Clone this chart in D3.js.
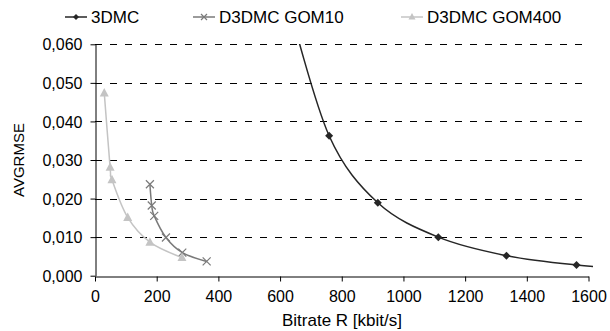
<!DOCTYPE html>
<html>
<head>
<meta charset="utf-8">
<script src="https://cdn.jsdelivr.net/npm/d3@7"></script>
<style>
  html, body { margin: 0; padding: 0; background: #fff; }
  svg { display: block; font-family: "Liberation Sans", Arial, sans-serif; }
</style>
</head>
<body>
<svg id="chart" width="610" height="331"></svg>
<script>
// values (points outside the axes get clipped like Excel does)
const seriesNames = ['3DMC', 'D3DMC GOM10', 'D3DMC GOM400'];
const bitrate3DMC = [630, 759, 917, 1113, 1334, 1561, 1790];
const rmse3DMC = [0.070, 0.0363, 0.0189, 0.0100, 0.0052, 0.0028, 0.0015];
const bitrateGOM10 = [178, 184, 192, 230, 283, 362];
const rmseGOM10 = [0.0237, 0.0182, 0.0155, 0.0099, 0.0060, 0.0037];
const bitrateGOM400 = [30, 49, 55, 106, 178, 282];
const rmseGOM400 = [0.0474, 0.0281, 0.0249, 0.0151, 0.0087, 0.0047];
const xTicks = [0, 200, 400, 600, 800, 1000, 1200, 1400, 1600];
const yTicks = [0, 0.01, 0.02, 0.03, 0.04, 0.05, 0.06];

const svg = d3.select('#chart');
const x = d3.scaleLinear().domain([0, 1600]).range([95, 588.5]);
const y = d3.scaleLinear().domain([0, 0.06]).range([275.7, 44.3]);
const fmt = v => d3.format('.3f')(v).replace('.', ',');

// dashed grid
svg.append('g').selectAll('line').data(yTicks.slice(1)).enter().append('line')
  .attr('x1', x(0)).attr('x2', x(1600))
  .attr('y1', d => Math.round(y(d)) + 0.5).attr('y2', d => Math.round(y(d)) + 0.5)
  .attr('stroke', '#000').attr('stroke-width', 1).attr('stroke-dasharray', '7,8');

// axes
const xAxis = svg.append('g').attr('transform', `translate(0,${Math.round(y(0)) + 0.5})`)
  .call(d3.axisBottom(x).tickValues(xTicks).tickFormat(d3.format('d')).tickSize(5).tickSizeOuter(0).tickPadding(9));
const yAxis = svg.append('g').attr('transform', `translate(${Math.round(x(0)) + 0.5},0)`)
  .call(d3.axisLeft(y).tickValues(yTicks).tickFormat(fmt).tickSize(5).tickSizeOuter(0).tickPadding(8));
[xAxis, yAxis].forEach(g => {
  g.select('.domain').attr('stroke', '#000');
  g.selectAll('.tick line').attr('stroke', '#000');
  g.selectAll('.tick text').attr('font-family', '"Liberation Sans", Arial, sans-serif')
    .attr('font-size', 16).attr('fill', '#000');
});
yAxis.selectAll('.tick text').attr('dy', '0.35em');

// titles
svg.append('text').attr('x', 342).attr('y', 326).attr('text-anchor', 'middle')
  .attr('font-size', 17).text('Bitrate R [kbit/s]');
svg.append('text').attr('transform', 'translate(24,160) rotate(-90)').attr('text-anchor', 'middle')
  .attr('font-size', 15).text('AVGRMSE');

// plot clip
svg.append('clipPath').attr('id', 'plotclip').append('rect')
  .attr('x', 95).attr('y', 44).attr('width', 498).attr('height', 233);

const series = [
  { name: seriesNames[0], xs: bitrate3DMC, ys: rmse3DMC, color: '#262626', marker: 'diamond' },
  { name: seriesNames[1], xs: bitrateGOM10, ys: rmseGOM10, color: '#7a7a7a', marker: 'cross' },
  { name: seriesNames[2], xs: bitrateGOM400, ys: rmseGOM400, color: '#c4c4c4', marker: 'triangle' }
];

const line = d3.line().x(d => x(d[0])).y(d => y(d[1])).curve(d3.curveCardinal.tension(0));

function drawMarker(g, kind, cx, cy, color, r) {
  if (kind === 'diamond') {
    g.append('path').attr('d', `M${cx},${cy - r}L${cx + r},${cy}L${cx},${cy + r}L${cx - r},${cy}Z`).attr('fill', color);
  } else if (kind === 'cross') {
    g.append('path').attr('d', `M${cx - r},${cy - r}L${cx + r},${cy + r}M${cx - r},${cy + r}L${cx + r},${cy - r}`)
      .attr('stroke', color).attr('stroke-width', 1.2).attr('fill', 'none');
  } else {
    g.append('path').attr('d', `M${cx},${cy - r - 1}L${cx + r + 0.5},${cy + r - 0.5}L${cx - r - 0.5},${cy + r - 0.5}Z`).attr('fill', color);
  }
}

const plot = svg.append('g').attr('clip-path', 'url(#plotclip)');
series.forEach(s => {
  const pts = s.xs.map((v, i) => [v, s.ys[i]]);
  plot.append('path').attr('d', line(pts)).attr('fill', 'none').attr('stroke', s.color).attr('stroke-width', 1.5);
  const mg = plot.append('g');
  pts.forEach(p => drawMarker(mg, s.marker, x(p[0]), y(p[1]), s.color, 4));
});

// legend
const legendX = [76, 204, 412];
const legend = svg.append('g');
series.forEach((s, i) => {
  const cx = legendX[i], cy = 17;
  legend.append('line').attr('x1', cx - 11).attr('x2', cx + 11).attr('y1', cy).attr('y2', cy)
    .attr('stroke', s.color).attr('stroke-width', 1.5);
  drawMarker(legend, s.marker, cx, cy, s.color, 3);
  legend.append('text').attr('x', cx + 15).attr('y', cy).attr('dy', '0.35em')
    .attr('font-size', 17).attr('fill', '#000').text(s.name);
});
</script>
</body>
</html>
